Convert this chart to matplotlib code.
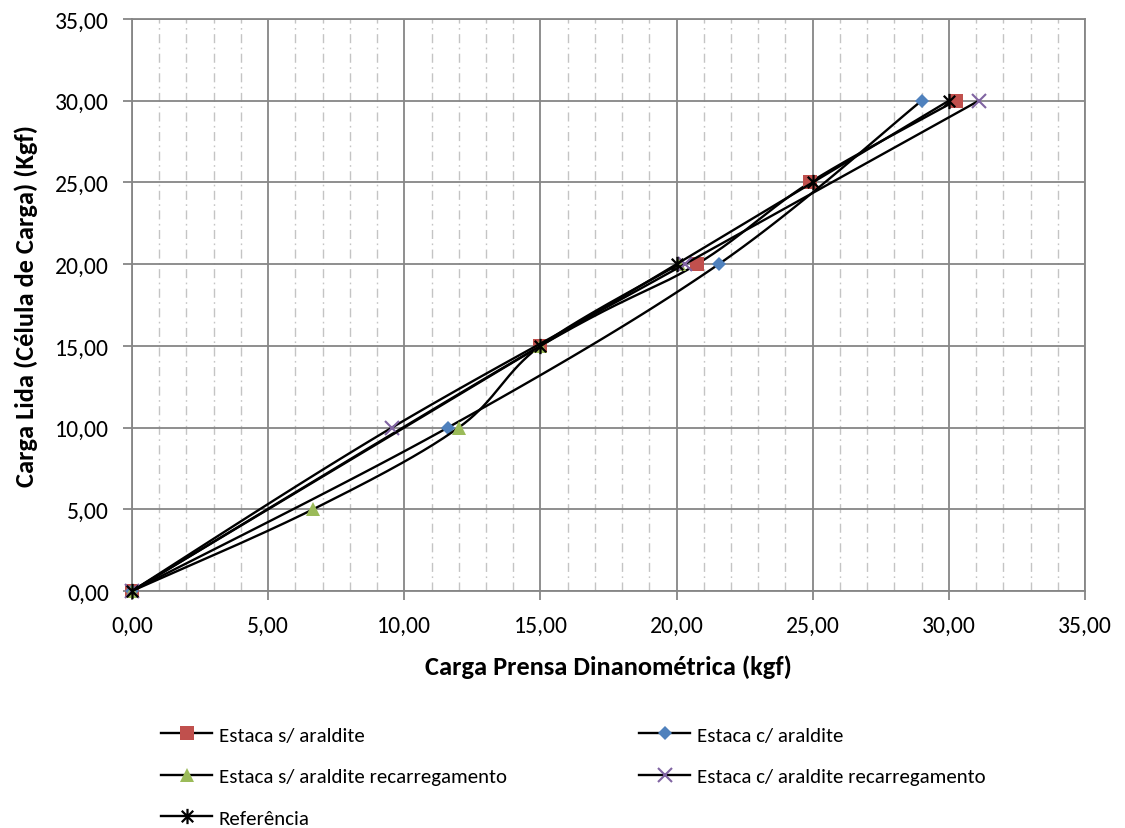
import numpy as np
import matplotlib
matplotlib.use("Agg")
import matplotlib.pyplot as plt
from matplotlib.path import Path
from matplotlib.lines import Line2D
from matplotlib.ticker import MultipleLocator, FuncFormatter

# valores (kgf)
s_aral_x = [0.0, 15.0, 20.75, 24.9, 30.25]
s_aral_y = [0.0, 15.0, 20.0, 25.0, 30.0]
c_aral_x = [0.0, 11.6, 21.55, 29.0]
c_aral_y = [0.0, 10.0, 20.0, 30.0]
s_rec_x = [0.0, 6.65, 12.0, 15.0, 20.1]
s_rec_y = [0.0, 5.0, 10.0, 15.0, 20.0]
c_rec_x = [0.0, 9.55, 20.3, 31.1]
c_rec_y = [0.0, 10.0, 20.0, 30.0]
ref_x = [0.0, 15.0, 20.0, 25.0, 30.0]
ref_y = [0.0, 15.0, 20.0, 25.0, 30.0]

labels = ["Estaca s/ araldite", "Estaca c/ araldite",
          "Estaca s/ araldite recarregamento", "Estaca c/ araldite recarregamento",
          "Referência"]

plt.rcParams['font.family'] = ['Carlito', 'Lato', 'DejaVu Sans']
plt.rcParams['lines.scale_dashes'] = False

GRID = '#868686'

# marcador "estrela" do Excel (x com barra vertical)
star = Path([(0, -1), (0, 1), (-0.75, -0.75), (0.75, 0.75), (-0.75, 0.75), (0.75, -0.75)],
            [Path.MOVETO, Path.LINETO, Path.MOVETO, Path.LINETO, Path.MOVETO, Path.LINETO])

styles = [
    dict(marker='s', ms=10, mfc='#C0504D', mec='#C0504D', mew=0),
    dict(marker='D', ms=7, mfc='#4F81BD', mec='#4F81BD', mew=0),
    dict(marker='^', ms=10, mfc='#9BBB59', mec='#9BBB59', mew=0),
    dict(marker='x', ms=10, mfc='none', mec='#8064A2', mew=1.5),
    dict(marker=star, ms=11, mfc='none', mec='black', mew=1.6),
]


def smooth(xs, ys, n=40):
    # curva suavizada tipo Excel (Catmull-Rom)
    p = np.column_stack([xs, ys])
    p = np.vstack([p[0], p, p[-1]])
    t = np.linspace(0, 1, n)[:, None]
    segs = []
    for i in range(1, len(p) - 2):
        p0, p1, p2, p3 = p[i - 1], p[i], p[i + 1], p[i + 2]
        segs.append(0.5 * (2 * p1 + (p2 - p0) * t
                           + (2 * p0 - 5 * p1 + 4 * p2 - p3) * t ** 2
                           + (-p0 + 3 * p1 - 3 * p2 + p3) * t ** 3))
    return np.vstack(segs)


fig = plt.figure(figsize=(11.25, 8.29), dpi=100)
ax = fig.add_axes([132 / 1125, 237 / 829, 953 / 1125, 572 / 829])

series = [(s_aral_x, s_aral_y), (c_aral_x, c_aral_y), (s_rec_x, s_rec_y),
          (c_rec_x, c_rec_y), (ref_x, ref_y)]

handles = []
for i, ((xs, ys), st) in enumerate(zip(series, styles)):
    curve = smooth(xs, ys)
    ax.plot(curve[:, 0], curve[:, 1], color='black', lw=1.7, zorder=3 + i * 0.2,
            solid_capstyle='round')
    ax.plot(xs, ys, ls='none', zorder=3.1 + i * 0.2, clip_on=False, **st)
    handles.append(Line2D([], [], color='black', lw=1.7, **st))

ax.set_xlim(0, 35)
ax.set_ylim(0, 35)
ax.xaxis.set_major_locator(MultipleLocator(5))
ax.yaxis.set_major_locator(MultipleLocator(5))
ax.xaxis.set_minor_locator(MultipleLocator(1))
fmt = FuncFormatter(lambda v, pos: f"{v:.2f}".replace('.', ','))
ax.xaxis.set_major_formatter(fmt)
ax.yaxis.set_major_formatter(fmt)

ax.grid(which='major', color=GRID, lw=1.3, zorder=1)
ax.grid(which='minor', axis='x', color='#C4C4C4', lw=1.0,
        linestyle=(0, (6.5, 3.2, 1.2, 3.2)), zorder=0.5)
ax.set_axisbelow(True)
for sp in ax.spines.values():
    sp.set_color(GRID)
    sp.set_linewidth(1.3)

ax.tick_params(which='major', direction='out', length=6.5, width=1.3, color=GRID,
               labelsize=17)
ax.tick_params(axis='x', pad=11)
ax.tick_params(axis='y', pad=10)
ax.tick_params(which='minor', length=0)

ax.set_xlabel("Carga Prensa Dinanométrica (kgf)", fontsize=19, fontweight='bold',
              labelpad=13)
ax.set_ylabel("Carga Lida (Célula de Carga) (Kgf)", fontsize=19, fontweight='bold',
              labelpad=12)

leg_kw = dict(loc='upper left', frameon=False, fontsize=15, handlelength=2.45,
              handletextpad=0.33, labelspacing=1.15, borderpad=0, borderaxespad=0,
              numpoints=1)
fig.legend([handles[0], handles[2], handles[4]], [labels[0], labels[2], labels[4]],
           bbox_to_anchor=(161 / 1125, 1 - 727 / 829), **leg_kw)
fig.legend([handles[1], handles[3]], [labels[1], labels[3]],
           bbox_to_anchor=(639 / 1125, 1 - 727 / 829), **leg_kw)

fig.savefig("out.png", dpi=100)
